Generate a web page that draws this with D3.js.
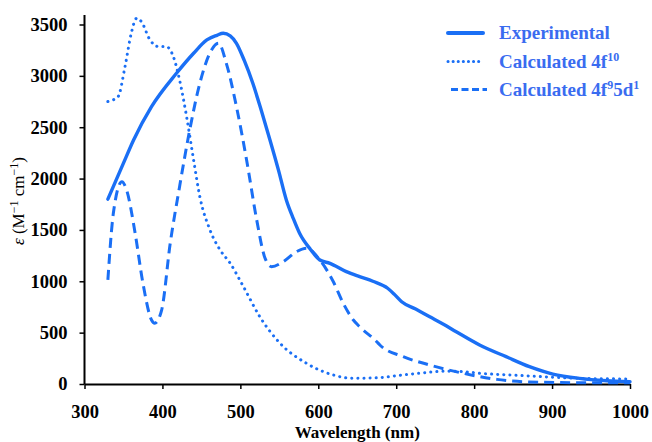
<!DOCTYPE html>
<html>
<head>
<meta charset="utf-8">
<script src="https://cdn.jsdelivr.net/npm/d3@7"></script>
<style>
  html, body { margin: 0; padding: 0; background: #fff; }
  svg { display: block; }
  svg text { font-family: "Liberation Serif", "Times New Roman", Times, "DejaVu Serif", serif; }
</style>
</head>
<body>
<svg id="chart" width="652" height="442"></svg>
<script>
// Absorption spectra: wavelength (nm) vs molar absorptivity (M^-1 cm^-1)
const expWavelength = [330, 350, 363, 386, 418, 440, 457, 470, 478, 487, 495, 505, 516, 527, 538, 549, 559, 568, 576, 590, 602, 615, 636, 653, 670, 689, 698, 707, 725, 743, 760, 777, 807, 841, 871, 901, 935, 970, 1000];
const expValues     = [1800, 2150, 2376, 2700, 3025, 3220, 3350, 3395, 3415, 3390, 3317, 3150, 2928, 2660, 2376, 2080, 1792, 1610, 1467, 1310, 1207, 1175, 1094, 1045, 1000, 932, 870, 801, 730, 655, 585, 509, 380, 266, 169, 97, 55, 32, 22];

const f10Wavelength = [330, 343, 352, 360, 367, 373, 384, 395, 405, 414, 422, 431, 440, 448, 461, 474, 487, 504, 525, 551, 585, 619, 645, 677, 700, 730, 764, 790, 807, 840, 871, 935, 1000];
const f10Values     = [2750, 2797, 3090, 3415, 3561, 3528, 3350, 3285, 3285, 3187, 2960, 2603, 2181, 1824, 1500, 1305, 1175, 947, 655, 396, 201, 88, 55, 61, 81, 105, 125, 118, 104, 90, 78, 55, 49];

const f9d1Wavelength = [330, 337, 348, 354, 365, 375, 386, 390, 399, 410, 422, 435, 448, 463, 472, 482, 495, 508, 521, 531, 540, 555, 572, 585, 602, 619, 632, 645, 653, 675, 679, 709, 743, 786, 829, 871, 935, 1000];
const f9d1Values     = [1013, 1662, 1970, 1889, 1467, 980, 623, 591, 720, 1370, 1921, 2473, 2928, 3252, 3317, 3122, 2700, 2181, 1597, 1240, 1142, 1191, 1288, 1321, 1207, 1000, 786, 623, 558, 412, 380, 266, 185, 104, 45, 20, 13, 13];

const xTicks = [300, 400, 500, 600, 700, 800, 900, 1000];
const yTicks = [0, 500, 1000, 1500, 2000, 2500, 3000, 3500];

const seriesNames = ["Experimental", "Calculated 4f", "Calculated 4f"];

const lineColor = "#1a6ff5";
const textColor = "#3a6cf0";
const serif = "'Liberation Serif', 'Times New Roman', Times, 'DejaVu Serif', serif";

const svg = d3.select("#chart");

const x = d3.scaleLinear().domain([300, 1000]).range([84.5, 630]);
const y = d3.scaleLinear().domain([0, 3500]).range([384, 24.5]);

// Axes
const xAxis = d3.axisBottom(x).tickValues(xTicks).tickFormat(d3.format("d"))
  .tickSize(5).tickSizeOuter(0).tickPadding(16);
const yAxis = d3.axisLeft(y).tickValues(yTicks).tickFormat(d3.format("d"))
  .tickSize(5).tickSizeOuter(0).tickPadding(12);

const gx = svg.append("g").attr("transform", `translate(0,${y(0)})`).call(xAxis);
const gy = svg.append("g").attr("transform", `translate(${x(300)},0)`).call(yAxis);

[gx, gy].forEach(g => {
  g.attr("font-family", serif).attr("font-size", 18.5).attr("font-weight", "bold");
  g.select(".domain").attr("stroke", "#000").attr("stroke-width", 2);
  g.selectAll(".tick line").attr("stroke", "#000").attr("stroke-width", 1.5);
  g.selectAll(".tick text").attr("fill", "#000");
});
// extend y-axis line a little above the top tick
gy.select(".domain").attr("d", `M0,${y(0)}V15`);

// Axis titles
svg.append("text")
  .attr("x", x(650)).attr("y", 438)
  .attr("text-anchor", "middle")
  .attr("font-family", serif)
  .attr("font-weight", "bold").attr("font-size", 17)
  .text("Wavelength (nm)");

const yt = svg.append("text")
  .attr("transform", "translate(24,201) rotate(-90)")
  .attr("text-anchor", "middle")
  .attr("font-family", serif)
  .attr("font-size", 17);
yt.append("tspan").attr("font-style", "italic").text("ε");
yt.append("tspan").text(" (M");
yt.append("tspan").attr("dy", -6).attr("font-size", 12).text("−1");
yt.append("tspan").attr("dy", 6).text(" cm");
yt.append("tspan").attr("dy", -6).attr("font-size", 12).text("−1");
yt.append("tspan").attr("dy", 6).text(")");

// Lines
const line = d3.line().x(d => x(d[0])).y(d => y(d[1])).curve(d3.curveMonotoneX);

const series = [
  { w: expWavelength, v: expValues, dash: null, legDash: null, width: 3.4, legWidth: 4, cap: "round" },
  { w: f10Wavelength, v: f10Values, dash: "0.1 6", legDash: "0.1 5", width: 3, legWidth: 3, cap: "round" },
  { w: f9d1Wavelength, v: f9d1Values, dash: "10 6", legDash: "7 3.5", width: 3, legWidth: 3, cap: "butt" }
];

series.forEach(s => {
  svg.append("path")
    .datum(d3.zip(s.w, s.v))
    .attr("d", line)
    .attr("fill", "none")
    .attr("stroke", lineColor)
    .attr("stroke-width", s.width)
    .attr("stroke-linecap", s.cap)
    .attr("stroke-linejoin", "round")
    .attr("stroke-dasharray", s.dash);
});

// Legend
const legendY = [33, 61.5, 89.5];
const leg = svg.append("g");
series.forEach((s, i) => {
  leg.append("line")
    .attr("x1", i === 2 ? 451 : 448).attr("x2", i === 2 ? 487 : 483)
    .attr("y1", legendY[i]).attr("y2", legendY[i])
    .attr("stroke", lineColor)
    .attr("stroke-width", s.legWidth)
    .attr("stroke-linecap", s.cap)
    .attr("stroke-dasharray", s.legDash);
  const t = leg.append("text")
    .attr("x", 499).attr("y", legendY[i] + 6)
    .attr("fill", textColor)
    .attr("font-family", serif)
    .attr("font-weight", "bold").attr("font-size", 19)
    .text(seriesNames[i]);
  if (i === 1) {
    t.append("tspan").text("10").attr("dy", -7).attr("font-size", 12);
  } else if (i === 2) {
    t.append("tspan").text("9").attr("dy", -7).attr("font-size", 12);
    t.append("tspan").text("5d").attr("dy", 7);
    t.append("tspan").text("1").attr("dy", -7).attr("font-size", 12);
  }
});
</script>
</body>
</html>
